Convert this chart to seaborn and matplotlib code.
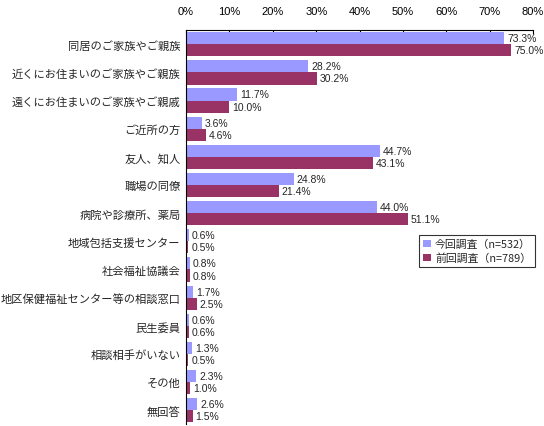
import numpy as np
import matplotlib
matplotlib.use("Agg")
import matplotlib.pyplot as plt
import seaborn as sns
import pandas as pd

# カテゴリ
categories = [
    "同居のご家族やご親族",
    "近くにお住まいのご家族やご親族",
    "遠くにお住まいのご家族やご親戚",
    "ご近所の方",
    "友人、知人",
    "職場の同僚",
    "病院や診療所、薬局",
    "地域包括支援センター",
    "社会福祉協議会",
    "地区保健福祉センター等の相談窓口",
    "民生委員",
    "相談相手がいない",
    "その他",
    "無回答",
]
series_names = ["今回調査（n=532）", "前回調査（n=789）"]
current_vals = [73.3, 28.2, 11.7, 3.6, 44.7, 24.8, 44.0, 0.6, 0.8, 1.7, 0.6, 1.3, 2.3, 2.6]
previous_vals = [75.0, 30.2, 10.0, 4.6, 43.1, 21.4, 51.1, 0.5, 0.8, 2.5, 0.6, 0.5, 1.0, 1.5]
x_ticks = [0, 10, 20, 30, 40, 50, 60, 70, 80]

df = pd.DataFrame({
    "項目": categories * 2,
    "調査": [series_names[0]] * len(categories) + [series_names[1]] * len(categories),
    "値": current_vals + previous_vals,
})

sns.set_style("white")
plt.rcParams["font.family"] = ["Noto Sans CJK JP", "DejaVu Sans"]
num_font = ["Liberation Sans", "DejaVu Sans"]

fig = plt.figure(figsize=(5.44, 4.27), dpi=100)
ax = fig.add_axes([0.342, 0.004, 0.638, 0.923])

sns.barplot(data=df, y="項目", x="値", hue="調査", orient="h",
            palette=["#9999FF", "#993366"], saturation=1, width=0.86, gap=0,
            edgecolor="none", ax=ax)

ax.set_xlim(0, 80)
ax.set_ylim(len(categories) - 0.5, -0.5)
ax.set_xticks(x_ticks)
ax.set_xticklabels([f"{t}%" for t in x_ticks], fontsize=8, family=num_font)
ax.xaxis.tick_top()
ax.tick_params(axis="x", direction="in", length=3, width=0.8, pad=10, colors="black")
ax.tick_params(axis="y", length=0, labelsize=8.1, pad=4)
ax.set_yticks(np.arange(len(categories)) + 0.5, minor=True)
ax.tick_params(axis="y", which="minor", direction="in", length=3, width=0.8)
ax.set_xlabel("")
ax.set_ylabel("")

for s in ["bottom", "right"]:
    ax.spines[s].set_visible(False)
for s in ["top", "left"]:
    ax.spines[s].set_color("black")
    ax.spines[s].set_linewidth(0.8)

# 値ラベル
for container in ax.containers:
    for bar in container:
        w = bar.get_width()
        y = bar.get_y() + bar.get_height() / 2
        ax.text(w + 0.7, y, f"{w:.1f}%", va="center", ha="left", fontsize=7.5,
                family=num_font)

leg = ax.legend(loc="upper left", bbox_to_anchor=(0.672, 0.48), fontsize=7.8,
                frameon=True, fancybox=False, edgecolor="black",
                handlelength=0.7, handleheight=0.7, handletextpad=0.4,
                borderpad=0.35, labelspacing=0.3, borderaxespad=0)
leg.get_frame().set_linewidth(0.8)

fig.savefig("out.png", dpi=100)
